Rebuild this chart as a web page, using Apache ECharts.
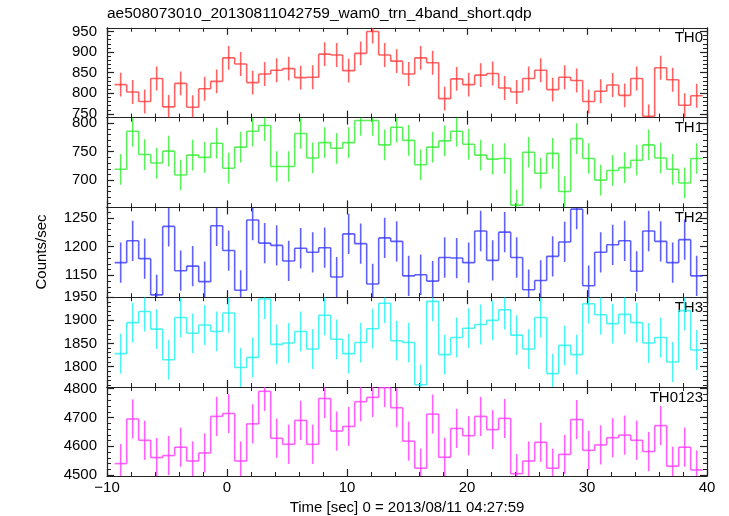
<!DOCTYPE html>
<html><head><meta charset="utf-8">
<script src="https://cdn.jsdelivr.net/npm/echarts@6/dist/echarts.min.js"></script>
<style>html,body{margin:0;padding:0;background:#fff}#c{width:729px;height:516px}</style>
</head><body><div id="c"></div>
<script>
// ---- data ----
const titleText = 'ae508073010_20130811042759_wam0_trn_4band_short.qdp';
const xLabel = 'Time [sec] 0 = 2013/08/11 04:27:59';
const yLabel = 'Counts/sec';
const panelNames = ['TH0', 'TH1', 'TH2', 'TH3', 'TH0123'];

// bin centres (s), bin width 1 s
const times = [-8.86,-7.86,-6.86,-5.86,-4.86,-3.86,-2.86,-1.86,-0.86,0.14,
  1.14,2.14,3.14,4.14,5.14,6.14,7.14,8.14,9.14,10.14,
  11.14,12.14,13.14,14.14,15.14,16.14,17.14,18.14,19.14,20.14,
  21.14,22.14,23.14,24.14,25.14,26.14,27.14,28.14,29.14,30.14,
  31.14,32.14,33.14,34.14,35.14,36.14,37.14,38.14,39.14];

const th0 = [821,803,780,836,767,824,766,811,829,886,
  871,826,847,856,860,838,839,895,893,855,
  897,950,893,878,847,886,874,787,835,821,
  844,848,813,803,836,856,809,839,831,780,
  805,820,795,836,744,862,833,771,794];
const th1 = [719,786,745,730,751,709,744,740,765,721,
  758,786,796,724,724,782,739,766,756,766,
  805,805,762,793,770,727,758,769,786,763,
  744,737,738,656,749,712,747,680,773,738,
  700,717,722,735,762,739,719,695,738];
const th2 = [1172,1210,1179,1116,1235,1158,1166,1139,1236,1193,
  1124,1246,1206,1202,1175,1197,1190,1198,1147,1222,
  1205,1135,1215,1209,1149,1151,1140,1181,1180,1172,
  1227,1176,1225,1181,1125,1141,1183,1208,1265,1132,
  1190,1203,1210,1157,1227,1209,1172,1212,1149];
const th3 = [1828,1895,1919,1881,1815,1906,1872,1890,1876,1916,
  1798,1820,1946,1848,1851,1876,1838,1911,1859,1828,
  1852,1882,1937,1856,1852,1761,1941,1826,1863,1883,
  1891,1900,1923,1868,1838,1906,1785,1846,1826,1936,
  1912,1893,1913,1895,1851,1863,1810,1921,1836];
const th0123 = [4540,4695,4621,4561,4568,4597,4549,4577,4704,4714,
  4549,4678,4791,4628,4607,4690,4607,4766,4653,4669,
  4755,4770,4804,4734,4618,4524,4712,4562,4662,4637,
  4704,4658,4697,4505,4549,4614,4524,4572,4693,4586,
  4605,4630,4639,4621,4582,4672,4531,4597,4518];
// error bar half-lengths (counts/sec) per panel
const errs = [29, 27, 35, 43, 68];

// y ranges and tick labels
const yMins = [741, 652, 1112, 1756, 4497];
const yMaxs = [959, 810, 1268, 1950, 4806];
const yMajor = [[750,800,850,900,950],[700,750,800],[1150,1200,1250],[1800,1850,1900,1950],[4500,4600,4700,4800]];
const yMinorStep = [10, 10, 10, 10, 20];
const xTicks = [-10, 0, 10, 20, 30, 40];

const colors = ['#ff3b3b', '#33ee33', '#3838ff', '#22f0f0', '#ff38ff'];
const series_values = [th0, th1, th2, th3, th0123];

// ---- layout ----
const L = 107, R = 22, TOP = 27.8, PH = 89.8;
const FONT = 'Liberation Sans, Arial, Helvetica, sans-serif';

const grids = [], xAxes = [], yAxes = [], series = [], graphics = [];
const axisLineStyle = {color: '#222', width: 1.2};

function minorValues(i) {
  const out = [];
  const s = yMinorStep[i];
  for (let v = Math.ceil(yMins[i] / s) * s; v <= yMaxs[i]; v += s) out.push(v);
  return out;
}

function makeRender(color) {
  return function (params, api) {
    const cs = params.coordSys;
    const top = cs.y, bot = cs.y + cs.height;
    const cl = y => Math.max(top, Math.min(bot, y));
    const t = api.value(0), v = api.value(1), e = api.value(2), pv = api.value(3);
    const a = api.coord([t - 0.5, v]), b = api.coord([t + 0.5, v]);
    const c1 = api.coord([t, v + e]), c2 = api.coord([t, v - e]);
    const p = api.coord([t - 0.5, pv]);
    const style = {stroke: color, lineWidth: 1.6, opacity: 0.8, fill: null};
    const ch = [];
    const ya = a[1];
    if (ya >= top - 0.5 && ya <= bot + 0.5) {
      ch.push({type: 'line', shape: {x1: a[0], y1: cl(ya), x2: b[0], y2: cl(ya)}, style});
    }
    ch.push({type: 'line', shape: {x1: c1[0], y1: cl(c1[1]), x2: c1[0], y2: cl(c2[1])}, style});
    ch.push({type: 'line', shape: {x1: a[0], y1: cl(p[1]), x2: a[0], y2: cl(ya)}, style});
    return {type: 'group', children: ch};
  };
}

for (let i = 0; i < 5; i++) {
  const top = TOP + PH * i;
  grids.push({left: L, right: R, top: top, height: PH});
  const last = i === 4;
  // bottom x axis
  xAxes.push({
    type: 'value', gridIndex: i, position: 'bottom', min: -10, max: 40, interval: 10,
    axisLine: {show: true, onZero: false, lineStyle: axisLineStyle},
    axisTick: {show: true, inside: true, length: 7, lineStyle: {color: '#222', width: 1.2}},
    minorTick: {show: true, splitNumber: 5, length: 4, lineStyle: {color: '#222', width: 1}},
    splitLine: {show: false},
    axisLabel: {show: last, margin: 4, fontSize: 15, color: '#000', fontFamily: FONT,
      formatter: v => String(v).replace('-', '\u2212')},
    name: last ? xLabel : '', nameLocation: 'middle', nameGap: 24,
    nameTextStyle: {fontSize: 15, color: '#000', fontFamily: FONT}
  });
  // top x axis
  xAxes.push({
    type: 'value', gridIndex: i, position: 'top', min: -10, max: 40, interval: 10,
    axisLine: {show: true, onZero: false, lineStyle: axisLineStyle},
    axisTick: {show: true, inside: true, length: 7, lineStyle: {color: '#222', width: 1.2}},
    minorTick: {show: true, splitNumber: 5, length: 4, lineStyle: {color: '#222', width: 1}},
    splitLine: {show: false}, axisLabel: {show: false}
  });
  const minors = minorValues(i);
  ['left', 'right'].forEach(pos => {
    yAxes.push({
      type: 'value', gridIndex: i, position: pos, min: yMins[i], max: yMaxs[i],
      axisLine: {show: true, onZero: false, lineStyle: axisLineStyle},
      axisTick: {show: true, inside: true, length: 7, customValues: yMajor[i], lineStyle: {color: '#222', width: 1.2}},
      splitLine: {show: false},
      axisLabel: {show: pos === 'left', customValues: yMajor[i], margin: 10, fontSize: 15, color: '#000', fontFamily: FONT,
        showMinLabel: true, showMaxLabel: true, formatter: v => String(v)}
    });
    yAxes.push({
      type: 'value', gridIndex: i, position: pos, min: yMins[i], max: yMaxs[i],
      axisLine: {show: false, onZero: false},
      axisTick: {show: true, inside: true, length: 4, customValues: minors, lineStyle: {color: '#222', width: 1}},
      splitLine: {show: false}, axisLabel: {show: false}
    });
  });
  const vals = series_values[i];
  const data = times.map((t, k) => [t, vals[k], errs[i], k > 0 ? vals[k - 1] : vals[k]]);
  series.push({
    type: 'custom', name: panelNames[i], xAxisIndex: 2 * i, yAxisIndex: 4 * i,
    renderItem: makeRender(colors[i]), data: data, clip: true, silent: true,
    encode: {x: 0, y: 1}
  });
  graphics.push({
    type: 'text', right: 26, top: top + 3,
    style: {text: panelNames[i], fontSize: 15, fill: '#000', fontFamily: FONT}
  });
}

graphics.push({
  type: 'text', left: L, top: 6,
  style: {text: titleText, fontSize: 15.5, fill: '#000', fontFamily: FONT}
});
graphics.push({
  type: 'text', x: 42, y: 252, rotation: Math.PI / 2,
  style: {text: yLabel, fontSize: 15, fill: '#000', fontFamily: FONT, align: 'center', verticalAlign: 'middle'}
});

const chart = echarts.init(document.getElementById('c'), null, {renderer: 'canvas'});
chart.setOption({
  animation: false,
  backgroundColor: '#fff',
  grid: grids, xAxis: xAxes, yAxis: yAxes, series: series, graphic: graphics
});
</script>
</body></html>
